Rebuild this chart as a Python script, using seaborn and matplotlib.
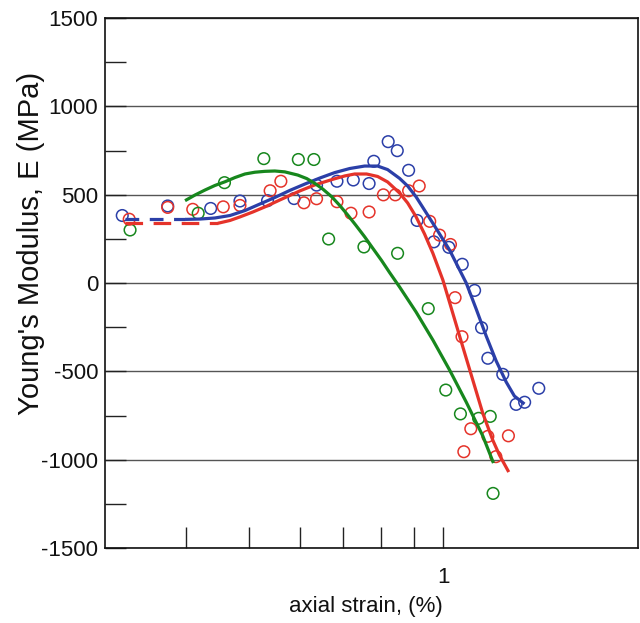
import matplotlib
matplotlib.use("Agg")
import matplotlib.pyplot as plt
import numpy as np
import pandas as pd
import seaborn as sns
from matplotlib.ticker import FixedLocator, NullFormatter, FixedFormatter

# ---------------- data ----------------
blue_strain = [0.319, 0.375, 0.437, 0.485, 0.535, 0.588, 0.637, 0.685, 0.726, 0.768,
               0.781, 0.822, 0.849, 0.884, 0.911, 0.967, 1.020, 1.070, 1.118, 1.146,
               1.172, 1.236, 1.296, 1.336, 1.405]
blue_E = [382, 436, 422, 464, 466, 478, 554, 576, 583, 563,
          689, 800, 749, 638, 354, 233, 202, 106, -42, -253,
          -426, -517, -687, -675, -596]

red_strain = [0.327, 0.375, 0.410, 0.457, 0.485, 0.540, 0.561, 0.609, 0.637, 0.685,
              0.720, 0.768, 0.808, 0.843, 0.884, 0.918, 0.953, 0.987, 1.026, 1.043,
              1.069, 1.103, 1.076, 1.172, 1.206, 1.261]
red_E = [361, 428, 417, 431, 439, 522, 576, 454, 477, 460,
         395, 402, 499, 499, 522, 549, 349, 271, 218, -83,
         -304, -825, -955, -868, -983, -865]

green_strain = [0.328, 0.418, 0.459, 0.528, 0.597, 0.631, 0.665, 0.754, 0.850, 0.948,
                1.009, 1.063, 1.134, 1.182, 1.194]
green_E = [300, 395, 568, 704, 699, 699, 249, 204, 168, -145,
           -606, -741, -766, -755, -1191]

# fitted curves
blue_fit_strain = [0.3989, 0.4206, 0.4436, 0.4681, 0.4937, 0.5206, 0.5491, 0.5791,
                   0.6109, 0.6443, 0.6797, 0.7168, 0.7558, 0.7917, 0.8203, 0.8562,
                   0.8810, 0.9077, 0.9638, 1.0226, 1.0852, 1.1243, 1.1651, 1.2072,
                   1.2509, 1.2882, 1.3352]
blue_fit_E = [360, 362, 368, 382, 410, 447, 484, 524,
              560, 594, 625, 648, 662, 662, 642, 592,
              549, 488, 338, 187, 0, -147, -300, -441,
              -560, -640, -685]
blue_dash_strain = [0.3222, 0.3989]
blue_dash_E = [360, 360]

red_fit_strain = [0.4484, 0.4681, 0.4850, 0.5078, 0.5318, 0.5590, 0.6000, 0.6329,
                  0.6749, 0.7042, 0.7296, 0.7612, 0.7917, 0.8203, 0.8562, 0.8810,
                  0.9077, 0.9357, 0.9638, 0.9986, 1.0347, 1.0720, 1.1108, 1.1512,
                  1.1926, 1.2214, 1.2625]
red_fit_E = [338, 354, 374, 402, 433, 470, 521, 555,
             587, 606, 617, 617, 603, 572, 509, 453,
             375, 277, 168, 17, -172, -361, -549, -738,
             -889, -974, -1070]
red_dash_strain = [0.3222, 0.4484]
red_dash_E = [338, 338]

green_fit_strain = [0.3989, 0.4133, 0.4281, 0.4436, 0.4598, 0.4765, 0.4937, 0.5114,
                    0.5299, 0.5491, 0.5689, 0.5958, 0.6152, 0.6329, 0.6512, 0.6724,
                    0.6918, 0.7117, 0.7322, 0.7558, 0.7777, 0.8030, 0.8262, 0.8562,
                    0.9077, 0.9638, 1.0226, 1.0852, 1.1512, 1.1957]
green_fit_E = [466, 498, 526, 552, 573, 597, 617, 627,
               632, 634, 629, 611, 591, 564, 532, 488,
               439, 385, 328, 262, 198, 127, 59, -23,
               -164, -323, -492, -674, -866, -1019]

x_major = [1]
x_major_labels = ["1"]
x_minor = [0.4, 0.5, 0.6, 0.7, 0.8, 0.9]
y_major = [-1500, -1000, -500, 0, 500, 1000, 1500]
y_minor = [-1250, -750, -250, 250, 750, 1250]

BLUE = "#2B3FA8"
RED = "#E5332A"
GREEN = "#17871D"

# ---------------- figure ----------------
sns.set_style("white")
plt.rcParams["font.family"] = ["Liberation Sans", "DejaVu Sans"]
plt.rcParams["axes.unicode_minus"] = False
plt.rcParams["lines.solid_joinstyle"] = "round"
plt.rcParams["lines.solid_capstyle"] = "butt"

fig = plt.figure(figsize=(6.4, 6.23), dpi=100)
ax = fig.add_axes([105 / 640, 75 / 623, 533 / 640, 530 / 623])
ax.set_xscale("log")

pts = pd.concat([
    pd.DataFrame({"strain": blue_strain, "E": blue_E, "set": "blue"}),
    pd.DataFrame({"strain": red_strain, "E": red_E, "set": "red"}),
    pd.DataFrame({"strain": green_strain, "E": green_E, "set": "green"}),
])
pal = {"blue": BLUE, "red": RED, "green": GREEN}

for name, col in pal.items():
    sub = pts[pts["set"] == name]
    sns.scatterplot(data=sub, x="strain", y="E", ax=ax, s=70, marker="o",
                    facecolors="none", edgecolor=col, linewidth=1.1, legend=False,
                    zorder=3)

fits = [(blue_fit_strain, blue_fit_E, BLUE), (red_fit_strain, red_fit_E, RED),
        (green_fit_strain, green_fit_E, GREEN)]
for xs, ys, col in fits:
    sns.lineplot(x=xs, y=ys, ax=ax, color=col, linewidth=2.3, sort=False,
                 estimator=None, zorder=4)

for xs, ys, col, dsh in [(blue_dash_strain, blue_dash_E, BLUE, (4.3, 3.3)),
                         (red_dash_strain, red_dash_E, RED, (5.5, 3.3))]:
    ln = sns.lineplot(x=xs, y=ys, ax=ax, color=col, linewidth=2.3, sort=False,
                      estimator=None, zorder=4)
    ln.lines[-1].set_dashes(dsh)

ax.set_xlim(0.3, 2.0)
ax.set_ylim(-1500, 1500)

ax.xaxis.set_major_locator(FixedLocator(x_major))
ax.xaxis.set_major_formatter(FixedFormatter(x_major_labels))
ax.xaxis.set_minor_locator(FixedLocator(x_minor))
ax.xaxis.set_minor_formatter(NullFormatter())
ax.yaxis.set_major_locator(FixedLocator(y_major))
ax.yaxis.set_minor_locator(FixedLocator(y_minor))

ax.tick_params(axis="both", which="both", direction="in", length=15, width=1.0,
               colors="#222222", top=False, right=False, labelsize=16)
ax.tick_params(axis="x", which="both", pad=14, bottom=True)
ax.tick_params(axis="y", which="both", pad=5, left=True)
for lab in ax.get_xticklabels() + ax.get_yticklabels():
    lab.set_color("#111111")

ax.grid(axis="y", which="major", color="#555555", linewidth=1.0)
ax.grid(axis="x", which="both", visible=False)
for sp in ax.spines.values():
    sp.set_color("#111111")
    sp.set_linewidth(1.2)

ax.set_xlabel("axial strain, (%)", fontsize=16, color="#111111")
ax.set_ylabel("Young's Modulus, E (MPa)", fontsize=21, color="#111111")
ax.xaxis.set_label_coords(0.49, -0.09)
ax.yaxis.set_label_coords(-0.113, 0.575)

fig.savefig("out.png", dpi=100)
